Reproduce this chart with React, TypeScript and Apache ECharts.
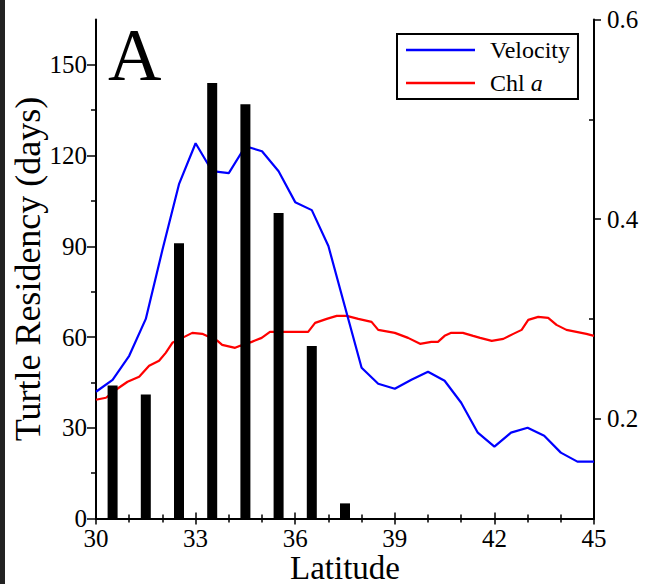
import React, { useEffect, useRef } from "react";
import * as echarts from "echarts";

const SERIF = "'Liberation Serif', 'DejaVu Serif', serif";

// Turtle residency bars (latitude bin centre, days)
const barLat = [30.5, 31.5, 32.5, 33.5, 34.5, 35.5, 36.5, 37.5];
const barDays = [44, 41, 91, 144, 137, 101, 57, 5];

// Velocity (right axis)
const velLat = [30, 30.5, 31, 31.5, 32, 32.5, 33, 33.5, 34, 34.5, 35, 35.5, 36, 36.5, 37, 37.5, 38, 38.5, 39, 39.5, 40, 40.5, 41, 41.5, 42, 42.5, 43, 43.5, 44, 44.5, 45];
const velVal = [0.227, 0.239, 0.263, 0.3, 0.369, 0.435, 0.476, 0.448, 0.446, 0.473, 0.468, 0.448, 0.417, 0.409, 0.373, 0.312, 0.251, 0.235, 0.23, 0.239, 0.247, 0.238, 0.216, 0.186, 0.172, 0.186, 0.191, 0.183, 0.166, 0.157, 0.157];

// Chl a (right axis)
const chlLat = [30.0, 30.3, 30.6, 30.95, 31.3, 31.6, 31.9, 32.1, 32.3, 32.66, 32.9, 33.2, 33.46, 33.66, 33.8, 33.93, 34.19, 34.34, 34.69, 34.99, 35.24, 35.54, 35.89, 36.39, 36.6, 36.95, 37.25, 37.55, 37.9, 38.3, 38.5, 39.0, 39.4, 39.76, 40.1, 40.3, 40.5, 40.7, 41.05, 41.36, 41.57, 41.92, 42.27, 42.57, 42.82, 43.02, 43.32, 43.62, 43.87, 44.17, 44.47, 44.77, 45.0];
const chlVal = [0.219, 0.221, 0.229, 0.237, 0.242, 0.253, 0.258, 0.266, 0.276, 0.282, 0.286, 0.285, 0.281, 0.278, 0.274, 0.273, 0.271, 0.273, 0.277, 0.281, 0.287, 0.287, 0.287, 0.287, 0.296, 0.3, 0.303, 0.303, 0.3, 0.297, 0.289, 0.286, 0.281, 0.275, 0.277, 0.277, 0.283, 0.286, 0.286, 0.283, 0.281, 0.278, 0.28, 0.285, 0.289, 0.299, 0.302, 0.301, 0.294, 0.289, 0.287, 0.285, 0.283];

const leftMajor = [0, 30, 60, 90, 120, 150];
const leftMinor = [15, 45, 75, 105, 135];
const rightMajor = [0.2, 0.4, 0.6];
const rightMinor = [0.3, 0.5];

export default function App() {
  const ref = useRef<HTMLDivElement>(null);
  useEffect(() => {
    if (!ref.current) return;
    const chart = echarts.init(ref.current, null, { renderer: "svg" });
    const axisLine = { show: true, lineStyle: { color: "#000", width: 2 } };
    const label = { color: "#000", fontSize: 25, fontFamily: SERIF };
    chart.setOption({
      animation: false,
      backgroundColor: "#fff",
      grid: { left: 96, right: 51, top: 19.5, bottom: 65.5, containLabel: false, outerBoundsMode: "none" },
      legend: {
        data: ["Velocity", "Chl a"],
        orient: "vertical",
        left: 397,
        top: 34,
        padding: [4, 8, 4, 9],
        itemGap: 9,
        itemWidth: 69,
        itemHeight: 2.5,
        icon: "rect",
        borderColor: "#000",
        borderWidth: 2,
        backgroundColor: "#fff",
        formatter: (name: string) => (name === "Chl a" ? "Chl {i|a}" : name),
        textStyle: {
          color: "#000",
          fontSize: 24,
          lineHeight: 24,
          fontFamily: SERIF,
          padding: [0, 0, 0, 10],
          rich: { i: { fontStyle: "italic", fontSize: 24, fontFamily: SERIF, color: "#000" } },
        },
      },
      xAxis: [
        {
          type: "value",
          position: "bottom",
          min: 30,
          max: 45,
          interval: 3,
          axisLine,
          axisTick: { show: true, inside: false, length: 6, lineStyle: { color: "#000", width: 1.5 } },
          minorTick: { show: true, splitNumber: 3, length: 4, lineStyle: { color: "#000", width: 1.5 } },
          axisLabel: { ...label, margin: 7 },
          splitLine: { show: false },
          name: "Latitude",
          nameLocation: "middle",
          nameGap: 35,
          nameMoveOverlap: false,
          nameTextStyle: { color: "#000", fontSize: 33, lineHeight: 28, fontFamily: SERIF },
        },
        {
          type: "value",
          position: "top",
          min: 30,
          max: 45,
          interval: 3,
          axisLine,
          axisTick: { show: true, inside: false, length: 6, lineStyle: { color: "#000", width: 1.5 } },
          minorTick: { show: true, splitNumber: 3, length: 4, lineStyle: { color: "#000", width: 1.5 } },
          axisLabel: { show: false },
          splitLine: { show: false },
        },
      ],
      yAxis: [
        {
          type: "value",
          position: "left",
          min: 0,
          max: 165,
          axisLine,
          axisTick: { show: true, inside: false, length: 9, customValues: leftMajor, lineStyle: { color: "#000", width: 1.5 } },
          axisLabel: { ...label, margin: 9, customValues: leftMajor },
          splitLine: { show: false },
          name: "Turtle Residency (days)",
          nameLocation: "middle",
          nameGap: 50,
          nameMoveOverlap: false,
          nameTextStyle: { color: "#000", fontSize: 36, fontFamily: SERIF },
        },
        {
          type: "value",
          position: "left",
          min: 0,
          max: 165,
          axisLine: { show: false },
          axisTick: { show: true, inside: false, length: 5, customValues: leftMinor, lineStyle: { color: "#000", width: 1.5 } },
          axisLabel: { show: false },
          splitLine: { show: false },
        },
        {
          type: "value",
          position: "right",
          min: 0.1,
          max: 0.6,
          axisLine,
          axisTick: { show: true, inside: false, length: 7, customValues: rightMajor, lineStyle: { color: "#000", width: 1.5 } },
          axisLabel: { ...label, margin: 13, customValues: rightMajor, formatter: (v: number) => v.toFixed(1) },
          splitLine: { show: false },
        },
        {
          type: "value",
          position: "right",
          min: 0.1,
          max: 0.6,
          axisLine: { show: false },
          axisTick: { show: true, inside: true, length: 5, customValues: rightMinor, lineStyle: { color: "#000", width: 1.5 } },
          axisLabel: { show: false },
          splitLine: { show: false },
        },
      ],
      series: [
        {
          name: "Chl a",
          type: "line",
          xAxisIndex: 0,
          yAxisIndex: 2,
          symbol: "none",
          data: chlLat.map((x, i) => [x, chlVal[i]]),
          lineStyle: { color: "#ff0000", width: 2.2 },
          itemStyle: { color: "#ff0000" },
          z: 2,
        },
        {
          name: "Velocity",
          type: "line",
          xAxisIndex: 0,
          yAxisIndex: 2,
          symbol: "none",
          data: velLat.map((x, i) => [x, velVal[i]]),
          lineStyle: { color: "#0000ff", width: 2.2 },
          itemStyle: { color: "#0000ff" },
          z: 3,
        },
        {
          name: "Residency",
          type: "bar",
          xAxisIndex: 0,
          yAxisIndex: 0,
          barWidth: 10,
          data: barLat.map((x, i) => [x, barDays[i]]),
          itemStyle: { color: "#000" },
          z: 4,
        },
      ],
      graphic: [
        { type: "rect", left: 0, top: 0, shape: { width: 5, height: 584 }, style: { fill: "#222" }, z: 100 },
        {
          type: "text",
          x: 108,
          y: 55,
          style: { text: "A", fontSize: 74, fontFamily: SERIF, fill: "#000", verticalAlign: "middle", align: "left" },
          z: 100,
        },
      ],
    });
    return () => chart.dispose();
  }, []);
  return (
    <div
      ref={ref}
      style={{ position: "absolute", left: 0, top: 0, width: 645, height: 584, background: "#fff" }}
    />
  );
}
